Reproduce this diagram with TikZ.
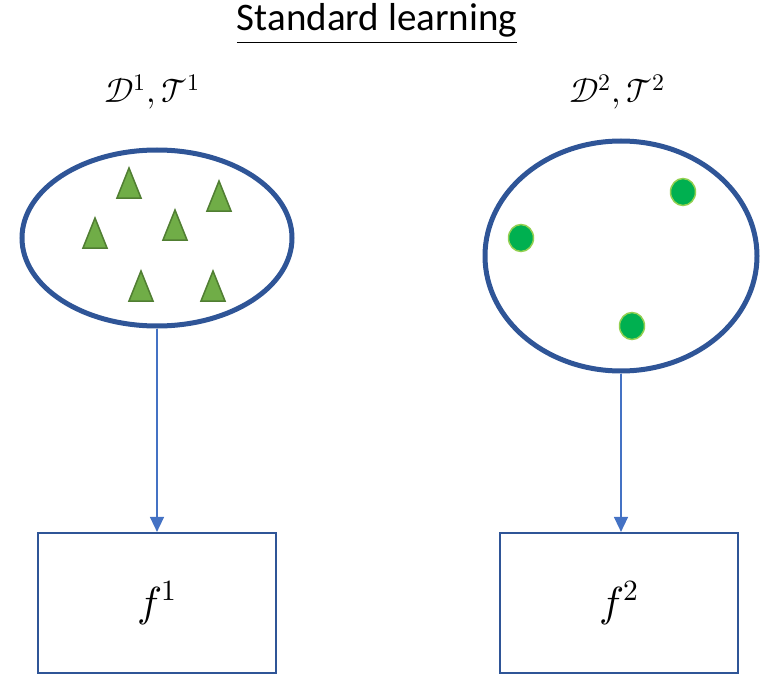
\documentclass[tikz,border=0pt]{standalone}
\usepackage{fontspec}
\usepackage{unicode-math}
\setmainfont{Carlito}
\setmathfont{Latin Modern Math}
\usetikzlibrary{arrows.meta,shapes.geometric}
\definecolor{ellblue}{HTML}{2F5597}
\definecolor{arrblue}{HTML}{4472C4}
\definecolor{trifill}{HTML}{70AD47}
\definecolor{tridraw}{HTML}{507E32}
\definecolor{dotfill}{HTML}{00B050}
\definecolor{dotdraw}{HTML}{92D050}
\tikzset{
  setell/.style={ellipse, draw=ellblue, line width=5pt, inner sep=0pt},
  fbox/.style={rectangle, draw=ellblue, line width=2.2pt, minimum width=238pt, minimum height=140pt, inner sep=0pt, font=\fontsize{42}{46}\selectfont},
  arr/.style={draw=arrblue, line width=1.5pt, -{Triangle[length=15pt,width=14pt]}},
  tri/.style={fill=trifill, draw=tridraw, line width=1.5pt, line join=miter},
  dot/.style={ellipse, fill=dotfill, draw=dotdraw, line width=1.5pt, minimum width=25pt, minimum height=27pt, inner sep=0pt},
  lab/.style={font=\fontsize{34}{38}\selectfont},
}
\begin{document}
\begin{tikzpicture}[x=1pt,y=-1pt]
\useasboundingbox (0,0) rectangle (763,674);
\node[font=\fontsize{39}{44}\selectfont, inner sep=0pt] (title) at (377,24) {\underline{Standard learning}};
\node[lab] (l1) at (152,92) {$\mathcal{D}^1,\mathcal{T}^1$};
\node[lab] (l2) at (617,92) {$\mathcal{D}^2,\mathcal{T}^2$};
\node[setell, minimum width=270pt, minimum height=176pt] (e1) at (157,238) {};
\node[setell, minimum width=272pt, minimum height=230pt] (e2) at (621,256) {};
\foreach \x/\y in {129/168, 219/181, 175/210, 95/218, 141/271, 213/271}
  \draw[tri] (\x,\y) -- ++(12,30) -- ++(-24,0) -- cycle;
\node[dot] (d1) at (683,192) {};
\node[dot] (d2) at (521,238) {};
\node[dot] (d3) at (632,326) {};
\node[fbox] (b1) at (157,603) {$f^1$};
\node[fbox] (b2) at (619,603) {$f^2$};
\draw[arr] (e1.south) -- (e1.south |- b1.north);
\draw[arr] (e2.south) -- (e2.south |- b2.north);
\end{tikzpicture}
\end{document}
